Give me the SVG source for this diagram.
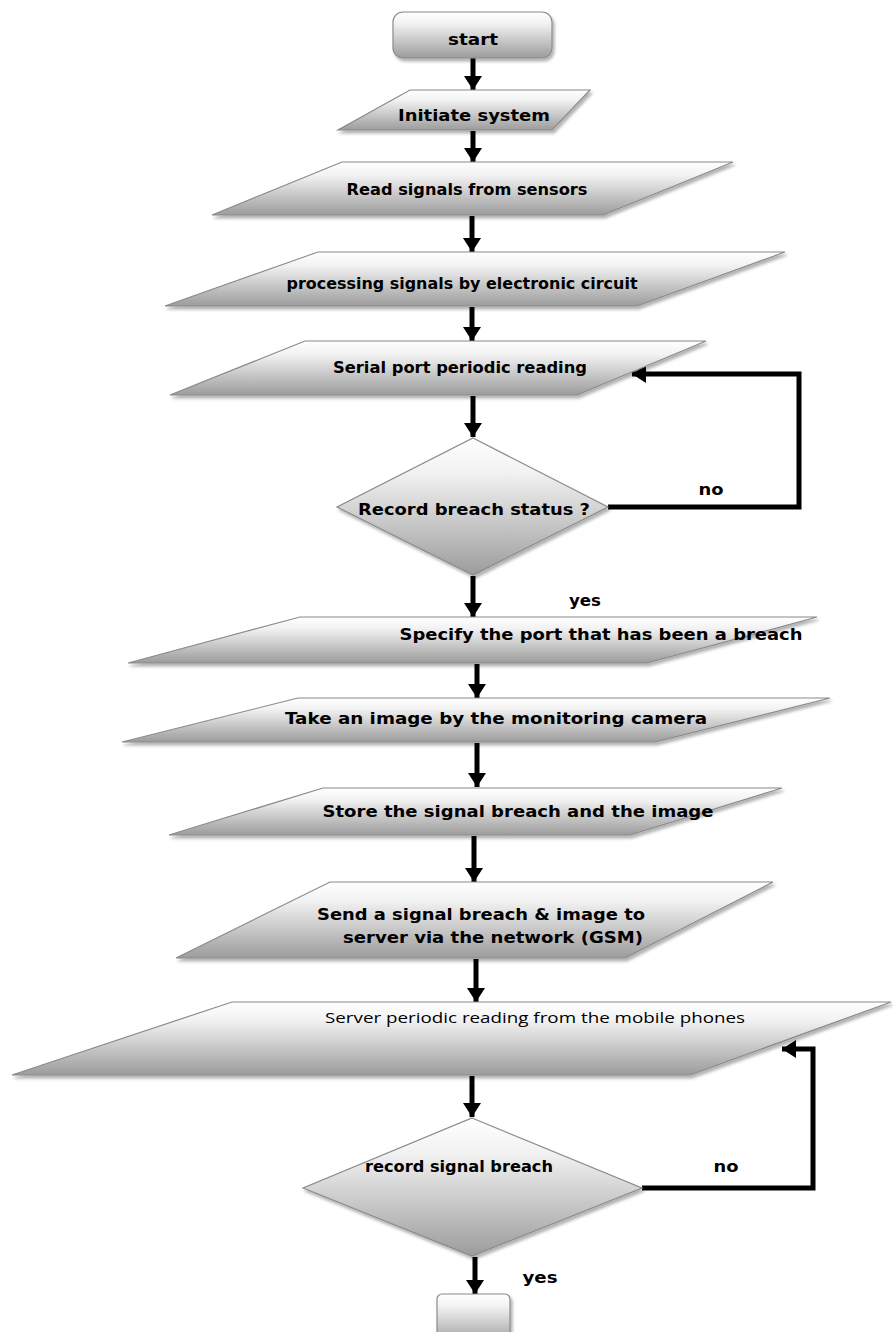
<svg xmlns="http://www.w3.org/2000/svg" width="893" height="1332" viewBox="0 0 893 1332">
<defs>
<linearGradient id="g" x1="0" y1="0" x2="0" y2="1">
<stop offset="0" stop-color="#ffffff"/>
<stop offset="0.25" stop-color="#f2f2f2"/>
<stop offset="1" stop-color="#9c9c9c"/>
</linearGradient>
<filter id="sh" x="-5%" y="-10%" width="115%" height="130%">
<feDropShadow dx="2" dy="3" stdDeviation="1.5" flood-color="#000" flood-opacity="0.3"/>
</filter>
<marker id="ah" markerUnits="userSpaceOnUse" markerWidth="16" markerHeight="20" refX="14" refY="9" orient="auto">
<path d="M0,0 L14,9 L0,18 Z" fill="#000"/>
</marker>
</defs>
<style>
.s{fill:url(#g);stroke:#8a8a8a;stroke-width:1.2;filter:url(#sh)}
.t{font-family:"DejaVu Sans",sans-serif;font-weight:bold;font-size:16px;fill:#000;text-anchor:middle}
.n{font-family:"Open Sans","DejaVu Sans",sans-serif;font-size:15px;fill:#000;text-anchor:middle}
.l{fill:none;stroke:#000;stroke-width:5}
</style>
<g id="connectors">
<path class="l" d="M473,58 V90" marker-end="url(#ah)"/>
<path class="l" d="M473,131 V162" marker-end="url(#ah)"/>
<path class="l" d="M472,216 V252" marker-end="url(#ah)"/>
<path class="l" d="M472,307 V341" marker-end="url(#ah)"/>
<path class="l" d="M473,396 V437" marker-end="url(#ah)"/>
<path class="l" d="M608,507 H799 V374 H632" marker-end="url(#ah)"/>
<path class="l" d="M473,576 V617" marker-end="url(#ah)"/>
<path class="l" d="M477,664 V698" marker-end="url(#ah)"/>
<path class="l" d="M477,743 V787" marker-end="url(#ah)"/>
<path class="l" d="M474,836 V882" marker-end="url(#ah)"/>
<path class="l" d="M476,959 V1002" marker-end="url(#ah)"/>
<path class="l" d="M472,1076 V1117" marker-end="url(#ah)"/>
<path class="l" d="M642,1188 H813 V1049 H782" marker-end="url(#ah)"/>
<path class="l" d="M475,1257 V1294" marker-end="url(#ah)"/>
<text class="t" x="711" y="495" textLength="25" lengthAdjust="spacingAndGlyphs">no</text>
<text class="t" x="585" y="606" textLength="32" lengthAdjust="spacingAndGlyphs">yes</text>
<text class="t" x="726" y="1172" textLength="25" lengthAdjust="spacingAndGlyphs">no</text>
<text class="t" x="540" y="1283" textLength="35" lengthAdjust="spacingAndGlyphs">yes</text>
</g>
<g id="start">
<rect class="s" x="393" y="12" width="159" height="46" rx="10"/>
<text class="t" x="473" y="45" textLength="50" lengthAdjust="spacingAndGlyphs">start</text>
</g>
<g id="initiate">
<path class="s" d="M410,90 H590 L552,130 H338 Z"/>
<text class="t" x="474" y="121" textLength="152" lengthAdjust="spacingAndGlyphs">Initiate system</text>
</g>
<g id="read">
<path class="s" d="M342,162 H733 L603,215 H212 Z"/>
<text class="t" x="467" y="195" textLength="241" lengthAdjust="spacingAndGlyphs">Read signals from sensors</text>
</g>
<g id="processing">
<path class="s" d="M318,252 H785 L637,306 H165 Z"/>
<text class="t" x="462" y="289" textLength="351" lengthAdjust="spacingAndGlyphs">processing signals by electronic circuit</text>
</g>
<g id="serial">
<path class="s" d="M305,341 H706 L577,395 H170 Z"/>
<text class="t" x="460" y="373" textLength="254" lengthAdjust="spacingAndGlyphs">Serial port periodic reading</text>
</g>
<g id="decision1">
<path class="s" d="M473,438 L608,507 L473,575 L337,507 Z"/>
<text class="t" x="474" y="515" textLength="232" lengthAdjust="spacingAndGlyphs">Record breach status ?</text>
</g>
<g id="specify">
<path class="s" d="M300,617 H817 L647,663 H128 Z"/>
<text class="t" x="601" y="640" textLength="403" lengthAdjust="spacingAndGlyphs">Specify the port that has been a breach</text>
</g>
<g id="take">
<path class="s" d="M298,698 H830 L655,742 H122 Z"/>
<text class="t" x="496" y="724" textLength="422" lengthAdjust="spacingAndGlyphs">Take an image by the monitoring camera</text>
</g>
<g id="store">
<path class="s" d="M323,788 H782 L630,835 H169 Z"/>
<text class="t" x="518" y="817" textLength="391" lengthAdjust="spacingAndGlyphs">Store the signal breach and the image</text>
</g>
<g id="send">
<path class="s" d="M330,882 H773 L625,958 H176 Z"/>
<text class="t" x="481" y="920" textLength="328" lengthAdjust="spacingAndGlyphs">Send a signal breach &amp; image to</text>
<text class="t" x="493" y="943" textLength="300" lengthAdjust="spacingAndGlyphs">server via the network (GSM)</text>
</g>
<g id="server">
<path class="s" d="M232,1002 H891 L690,1075 H12 Z"/>
<text class="n" x="535" y="1023" textLength="420" lengthAdjust="spacingAndGlyphs">Server periodic reading from the mobile phones</text>
</g>
<g id="decision2">
<path class="s" d="M472,1118 L642,1188 L472,1256 L303,1188 Z"/>
<text class="t" x="459" y="1172" textLength="188" lengthAdjust="spacingAndGlyphs">record signal breach</text>
</g>
<g id="end">
<rect class="s" x="437" y="1294" width="73" height="50" rx="5"/>
</g>
</svg>
